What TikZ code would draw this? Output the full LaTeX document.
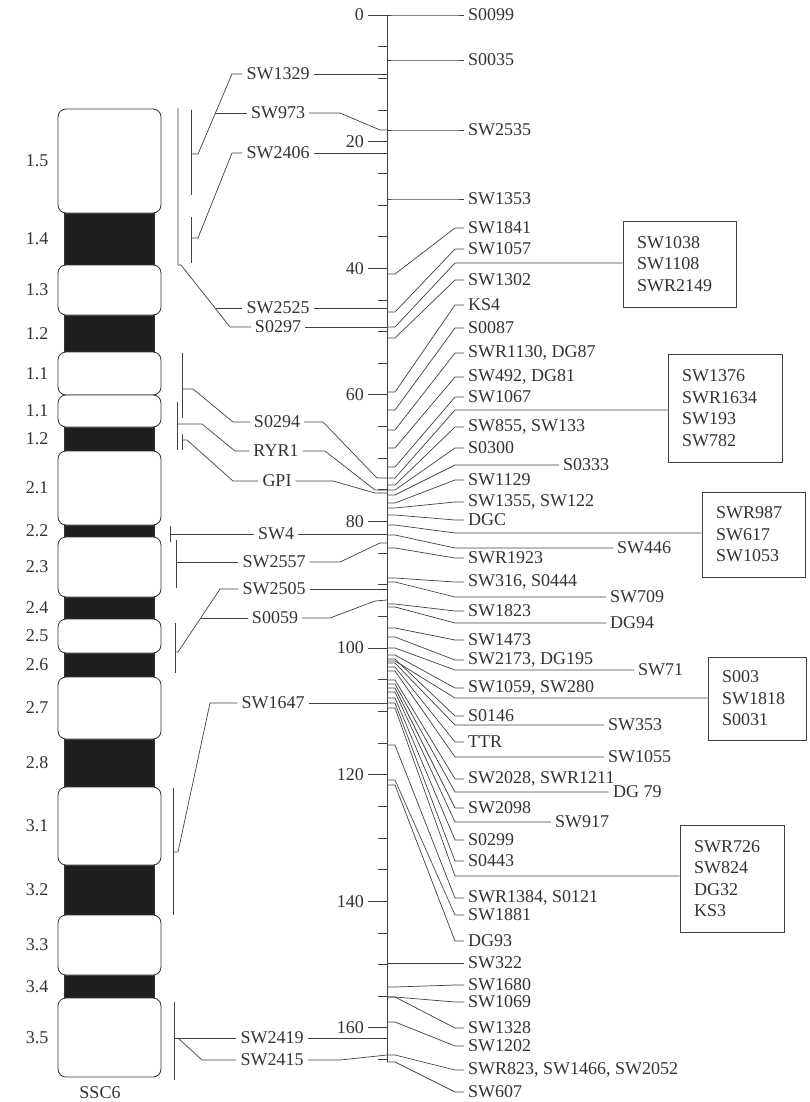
\documentclass[tikz,border=0pt]{standalone}
\usepackage{fontspec}
\setmainfont{Liberation Serif}
\begin{document}
\begin{tikzpicture}[x=1pt, y=-1pt,
  every node/.style = {font=\fontsize{18}{21.5}\selectfont, text=black!80, inner sep=4pt},
  ln/.style = {draw=black!75, line width=0.7pt},
  wband/.style = {draw=black!80, line width=0.8pt, fill=white, rounded corners=8pt},
  kband/.style = {draw=black!80, line width=0.8pt, fill=black!88},
  boxed/.style = {draw=black!75, line width=0.7pt, align=left, inner xsep=14pt, inner ysep=4pt}]
  \useasboundingbox (0,0) rectangle (810,1102);

  % chromosome
  \foreach \t/\b/\n in {213/265/1.4, 315/352/1.2, 427/451/1.2, 525/537/2.2, 597/619/2.4,
                        653/677/2.6, 739/787/2.8, 865/915/3.2, 975/998/3.4} {
    \draw[kband] (64,\t) rectangle (154,\b);
    \node (bk\t) at (37,{(\t+\b)/2}) {\n};
  }
  \foreach \t/\b/\n in {109/213/1.5, 265/315/1.3, 352/395/1.1, 395/427/1.1, 451/525/2.1,
                        537/597/2.3, 619/653/2.5, 677/739/2.7, 787/865/3.1, 915/975/3.3,
                        998/1077/3.5} {
    \draw[wband] (58,\t) rectangle (161,\b);
    \node (bw\t) at (37,{(\t+\b)/2}) {\n};
  }
  \node (ssc) at (100,1093) {SSC6};

  % scale
  \coordinate (atop) at (387,15);
  \coordinate (abot) at (387,1062);
  \draw[ln] (atop) -- (abot);
  \foreach \c in {5,10,...,165}
    \draw[ln] (378,{15+6.33*\c}) -- (387,{15+6.33*\c});
  \foreach \c in {0,20,...,160} {
    \draw[ln] (368,{15+6.33*\c}) -- (387,{15+6.33*\c});
    \node[anchor=east, inner sep=2pt] (cm\c) at (366,{15+6.33*\c}) {\c};
  }

  % left markers
  \node (l1329) at (278,74) {SW1329};
  \node (l973) at (278,113) {SW973};
  \node (l2406) at (278,153) {SW2406};
  \node (l2525) at (278,308) {SW2525};
  \node (l0297) at (278,327) {S0297};
  \node (l0294) at (277,422) {S0294};
  \node (lryr) at (276,451) {RYR1};
  \node (lgpi) at (277,481) {GPI};
  \node (lsw4) at (276,534) {SW4};
  \node (l2557) at (274,562) {SW2557};
  \node (l2505) at (274,589) {SW2505};
  \node (l0059) at (275,618) {S0059};
  \node (l1647) at (273,703) {SW1647};
  \node (l2419) at (272,1038) {SW2419};
  \node (l2415) at (272,1060) {SW2415};

  \coordinate (a1329) at (387,74);
  \coordinate (a973) at (387,130);
  \coordinate (a2406) at (387,153);
  \coordinate (a2525) at (387,308);
  \coordinate (a0297) at (387,327);
  \coordinate (a0294) at (387,478);
  \coordinate (aryr) at (387,490);
  \coordinate (agpi) at (387,493);
  \coordinate (asw4) at (387,534);
  \coordinate (a2557) at (387,543);
  \coordinate (a2505) at (387,589);
  \coordinate (a0059) at (387,600);
  \coordinate (a1647) at (387,703);
  \coordinate (a2419) at (387,1038);
  \coordinate (a2415) at (387,1055);

  \draw[ln] (l1329.east) -- (a1329);
  \draw[ln] (l973.east) -- (340,113) -- (380,130) -- (a973);
  \draw[ln] (l2406.east) -- (a2406);
  \draw[ln] (l2525.east) -- (a2525);
  \draw[ln] (l0297.east) -- (a0297);
  \draw[ln] (l0294.east) -- (323,422) -- (377,478) -- (a0294);
  \draw[ln] (lryr.east) -- (325,451) -- (375,490) -- (aryr);
  \draw[ln] (lgpi.east) -- (333,481) -- (375,493) -- (agpi);
  \draw[ln] (lsw4.east) -- (asw4);
  \draw[ln] (l2557.east) -- (340,562) -- (380,543) -- (a2557);
  \draw[ln] (l2505.east) -- (a2505);
  \draw[ln] (l0059.east) -- (330,618) -- (375,601) -- (a0059);
  \draw[ln] (l1647.east) -- (a1647);
  \draw[ln] (l2419.east) -- (a2419);
  \draw[ln] (l2415.east) -- (340,1060) -- (a2415);

  % brackets
  \coordinate (t1329) at (191,154);
  \coordinate (t2406) at (191,238);
  \coordinate (t0297) at (178,265);
  \coordinate (t0294) at (182,389);
  \coordinate (tryr) at (177,424);
  \coordinate (tgpi) at (182,440);
  \coordinate (tsw4) at (170,534);
  \coordinate (t2557) at (176,562);
  \coordinate (t2505) at (175,652);
  \coordinate (t1647) at (173,852);
  \coordinate (t2419) at (174,1038);
  \draw[ln] (191,110) -- (191,195);
  \draw[ln] (t1329) -- (198,154) -- (232,74) -- (l1329.west);
  \draw[ln] (215,113) -- (l973.west);
  \draw[ln] (191,217) -- (191,263);
  \draw[ln] (t2406) -- (198,238) -- (232,153) -- (l2406.west);
  \draw[ln] (178,108) -- (t0297) -- (181,265) -- (230,327) -- (l0297.west);
  \draw[ln] (215,308) -- (l2525.west);
  \draw[ln] (182,353) -- (182,418);
  \draw[ln] (t0294) -- (193,389) -- (233,422) -- (l0294.west);
  \draw[ln] (177,402) -- (177,450);
  \draw[ln] (tryr) -- (202,424) -- (235,451) -- (lryr.west);
  \draw[ln] (182,434) -- (182,450);
  \draw[ln] (tgpi) -- (187,440) -- (233,481) -- (lgpi.west);
  \draw[ln] (170,526) -- (170,542);
  \draw[ln] (tsw4) -- (lsw4.west);
  \draw[ln] (176,540) -- (176,588);
  \draw[ln] (t2557) -- (l2557.west);
  \draw[ln] (175,623) -- (175,673);
  \draw[ln] (t2505) -- (178,652) -- (220,589) -- (l2505.west);
  \draw[ln] (201,618) -- (l0059.west);
  \draw[ln] (173,788) -- (173,915);
  \draw[ln] (t1647) -- (178,852) -- (210,703) -- (l1647.west);
  \draw[ln] (174,1002) -- (174,1080);
  \draw[ln] (t2419) -- (l2419.west);
  \draw[ln] (178,1038) -- (202,1060) -- (l2415.west);

  % right markers
  \foreach \a/\l/\x/\t in {
      15/15/464/S0099, 60/60/464/S0035, 130/130/464/SW2535, 199/199/464/SW1353,
      274/228/464/SW1841, 312/249/464/SW1057, 338/280/464/SW1302, 392/305/464/KS4,
      410/328/464/S0087, 430/353/464/{SWR1130, DG87}, 448/377/464/{SW492, DG81},
      467/397/464/SW1067, 485/427/464/{SW855, SW133}, 490/448/464/S0300,
      495/465/559/S0333, 503/480/464/SW1129, 508/502/464/{SW1355, SW122},
      515/520/464/DGC, 535/548/613/SW446, 548/558/464/SWR1923,
      578/582/464/{SW316, S0444}, 582/597/606/SW709, 604/611/464/SW1823,
      607/623/606/DG94, 628/640/464/SW1473, 637/660/464/{SW2173, DG195},
      648/670/634/SW71, 655/688/464/{SW1059, SW280}, 659/716/464/S0146,
      663/725/604/SW353, 667/742/464/TTR, 671/757/604/SW1055,
      680/779/464/{SW2028, SWR1211}, 684/792/609/DG 79, 688/808/464/SW2098,
      692/822/551/SW917, 698/840/464/S0299, 703/861/464/S0443,
      745/898/464/{SWR1384, S0121}, 780/915/464/SW1881, 785/941/464/DG93,
      963/963/464/SW322, 987/985/464/SW1680, 997/1002/464/SW1069,
      997/1028/464/SW1328, 1022/1046/464/SW1202,
      1055/1070/464/{SWR823, SW1466, SW2052}, 1062/1092/464/SW607} {
    \coordinate (m\l) at (387,\a);
    \node[anchor=west] (r\l) at (\x,\l) {\t};
    \draw[ln] (m\l) -- ++(8,0) -- (455,\l) -- (r\l.west);
  }

  % boxes
  \node[boxed, text width=85pt, minimum height=86pt] (box1) at (679.5,264) {SW1038\\SW1108\\SWR2149};
  \node[boxed, text width=86pt, minimum height=108pt] (box2) at (725,408) {SW1376\\SWR1634\\SW193\\SW782};
  \node[boxed, text width=75pt, minimum height=85pt] (box3) at (753.5,534.5) {SWR987\\SW617\\SW1053};
  \node[boxed, text width=70pt, minimum height=83pt] (box4) at (757,698.5) {S003\\SW1818\\S0031};
  \node[boxed, text width=76pt, minimum height=107pt] (box5) at (732,878.5) {SWR726\\SW824\\DG32\\KS3};
  \foreach \a/\l/\b in {327/263/box1, 478/410/box2, 525/533/box3, 661/698/box4, 708/876/box5} {
    \coordinate (m\b) at (387,\a);
    \coordinate (q\b) at (455,\l);
    \draw[ln] (m\b) -- ++(8,0) -- (q\b) -- (\b.west |- q\b);
  }
\end{tikzpicture}
\end{document}
